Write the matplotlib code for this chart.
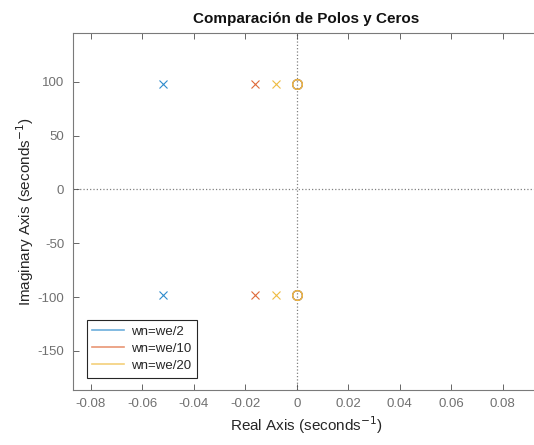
import matplotlib
matplotlib.use("Agg")
import matplotlib.pyplot as plt
from matplotlib.lines import Line2D

plt.rcParams['font.family'] = ['Liberation Sans', 'DejaVu Sans']
plt.rcParams['axes.unicode_minus'] = False

series = ['wn=we/2', 'wn=we/10', 'wn=we/20']
colors = ['#2f8ccc', '#df6a3a', '#efbc42']
pole_re = [-0.0519, -0.0162, -0.0080]
pole_im = [98.0, 98.0, 98.0]
zero_re = [0.0, 0.0, 0.0]
zero_im = [98.0, 98.0, 98.0]

xticks = [-0.08, -0.06, -0.04, -0.02, 0, 0.02, 0.04, 0.06, 0.08]
xticklabels = ['-0.08', '-0.06', '-0.04', '-0.02', '0', '0.02', '0.04', '0.06', '0.08']
yticks = [-150, -100, -50, 0, 50, 100]

W, H = 534, 445
fig = plt.figure(figsize=(W/100, H/100), dpi=100)
left, right, top, bottom = 72.5, 540, 33, 390
ax = fig.add_axes([left/W, 1-bottom/H, (right-left)/W, (bottom-top)/H])

ax.axvline(0, color='#808080', ls=':', lw=0.9, zorder=1)
ax.axhline(0, color='#808080', ls=':', lw=0.9, zorder=1)

for i, c in enumerate(colors):
    ax.plot([pole_re[i], pole_re[i]], [pole_im[i], -pole_im[i]], ls='none', marker='x',
            ms=6, mew=0.8, color=c, zorder=3)
    ax.plot([zero_re[i], zero_re[i]], [zero_im[i], -zero_im[i]], ls='none', marker='o',
            ms=7, mew=0.9, mfc='none', color=c, zorder=3)

ax.set_xlim(-0.0871, 0.0945)
ax.set_ylim(-186.3, 145.4)
ax.set_xticks(xticks)
ax.set_xticklabels(xticklabels)
ax.set_yticks(yticks)
ax.tick_params(direction='in', top=True, right=False, length=4, width=0.6,
               colors='#4d4d4d', labelcolor='#707070', labelsize=9.5, pad=6)
for s in ax.spines.values():
    s.set_color('#7a7a7a')
    s.set_linewidth(0.8)

ax.set_title('Comparación de Polos y Ceros', fontsize=11, fontweight='bold', color='#111111', pad=7)
ax.set_xlabel('Real Axis (seconds$^{-1}$)', fontsize=11, color='#262626', labelpad=3)
ax.set_ylabel('Imaginary Axis (seconds$^{-1}$)', fontsize=11, color='#262626', labelpad=1)

handles = [Line2D([0], [0], color=c, lw=1.2, alpha=0.7) for c in colors]
leg = ax.legend(handles, series, loc='lower left', bbox_to_anchor=(0.03, 0.035),
                fontsize=9.5, frameon=True, fancybox=False, framealpha=1,
                handlelength=2.4, handletextpad=0.5, borderpad=0.45, labelspacing=0.35,
                borderaxespad=0)
leg.get_frame().set_edgecolor('#262626')
leg.get_frame().set_linewidth(0.8)
for t in leg.get_texts():
    t.set_color('#262626')

fig.savefig('out.png', dpi=100)
